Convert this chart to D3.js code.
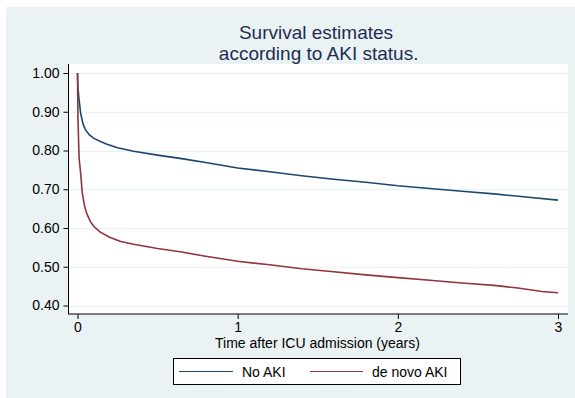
<!DOCTYPE html>
<html>
<head>
<meta charset="utf-8">
<script src="https://cdn.jsdelivr.net/npm/d3@7"></script>
<style>
  html, body { margin: 0; padding: 0; background: #fff; }
  svg { display: block; font-family: "Liberation Sans", Arial, Helvetica, sans-serif; }
</style>
</head>
<body>
<div id="chart"></div>
<script>
// Kaplan-Meier estimates, [years, survival]
var no_aki = [
  [0, 1.0], [0.003, 0.96], [0.01, 0.93], [0.02, 0.895], [0.035, 0.868],
  [0.05, 0.853], [0.075, 0.84], [0.1, 0.832], [0.14, 0.824], [0.18, 0.817],
  [0.25, 0.807], [0.35, 0.798], [0.5, 0.788], [0.65, 0.779], [0.8, 0.769],
  [1.0, 0.755], [1.2, 0.745], [1.4, 0.735], [1.6, 0.726], [1.8, 0.718],
  [2.0, 0.709], [2.2, 0.702], [2.4, 0.695], [2.6, 0.688], [2.8, 0.68],
  [3.0, 0.672]
];
var de_novo_aki = [
  [0, 1.0], [0.003, 0.88], [0.01, 0.78], [0.02, 0.74], [0.03, 0.69],
  [0.045, 0.655], [0.06, 0.635], [0.08, 0.617], [0.1, 0.605], [0.14, 0.59],
  [0.2, 0.576], [0.27, 0.565], [0.35, 0.558], [0.5, 0.547], [0.65, 0.538],
  [0.8, 0.527], [1.0, 0.514], [1.2, 0.505], [1.4, 0.495], [1.6, 0.487],
  [1.8, 0.479], [2.0, 0.472], [2.2, 0.465], [2.4, 0.458], [2.6, 0.452],
  [2.75, 0.445], [2.9, 0.436], [3.0, 0.433]
];
var series_names = ['No AKI', 'de novo AKI'];
var series_colors = ['#1a476f', '#90353b'];
var y_ticks = [0.40, 0.50, 0.60, 0.70, 0.80, 0.90, 1.00];
var x_ticks = [0, 1, 2, 3];
var title_lines = ['Survival estimates', ' according to AKI status.'];
var x_title = 'Time after ICU admission (years)';

var width = 575, height = 398;
var bg_color = '#eaf2f3';

var svg = d3.select('#chart')
  .append('svg')
  .attr('width', width)
  .attr('height', height);

// outer graph region
svg.append('rect')
  .attr('x', 6).attr('y', 7)
  .attr('width', width - 6).attr('height', height - 7)
  .attr('fill', bg_color);

// plot region
var plot = {left: 68, right: 568, top: 64, bottom: 314};
svg.append('rect')
  .attr('x', plot.left).attr('y', plot.top)
  .attr('width', plot.right - plot.left)
  .attr('height', plot.bottom - plot.top)
  .attr('fill', '#fff');

var x = d3.scaleLinear().domain([0, 3]).range([77.5, 558]);
var y = d3.scaleLinear().domain([0.4, 1.0]).range([305.5, 73]);

// grid lines
svg.append('g')
  .selectAll('line')
  .data(y_ticks)
  .join('line')
  .attr('x1', plot.left + 1)
  .attr('x2', plot.right)
  .attr('y1', function(d) { return Math.round(y(d)) + 0.5; })
  .attr('y2', function(d) { return Math.round(y(d)) + 0.5; })
  .attr('stroke', bg_color)
  .attr('stroke-width', 1.5);

// curves
var line = d3.line()
  .x(function(d) { return x(d[0]); })
  .y(function(d) { return y(d[1]); });

[no_aki, de_novo_aki].forEach(function(inst_data, i) {
  svg.append('path')
    .datum(inst_data)
    .attr('d', line)
    .attr('fill', 'none')
    .attr('stroke', series_colors[i])
    .attr('stroke-width', 1.6);
});

// y axis
var y_axis = d3.axisLeft(y)
  .tickValues(y_ticks)
  .tickSize(5)
  .tickPadding(4)
  .tickFormat(d3.format('.2f'));
var y_group = svg.append('g')
  .attr('transform', 'translate(' + (plot.left + 0.5) + ',0)')
  .call(y_axis);
y_group.select('.domain').remove();
y_group.append('line')
  .attr('x1', 0).attr('x2', 0)
  .attr('y1', plot.top).attr('y2', plot.bottom)
  .attr('stroke', '#000');

// x axis
var x_axis = d3.axisBottom(x)
  .tickValues(x_ticks)
  .tickSize(5)
  .tickPadding(3)
  .tickFormat(d3.format('d'));
var x_group = svg.append('g')
  .attr('transform', 'translate(0,' + plot.bottom + ')')
  .call(x_axis);
x_group.select('.domain').remove();
x_group.append('line')
  .attr('x1', plot.left).attr('x2', plot.right)
  .attr('y1', 0).attr('y2', 0)
  .attr('stroke', '#000');

svg.selectAll('.tick text')
  .attr('font-size', 14)
  .attr('font-family', null)
  .attr('fill', '#000');
svg.selectAll('.tick line').attr('stroke', '#000');

// axis title
svg.append('text')
  .attr('x', 317.5)
  .attr('y', 348)
  .attr('text-anchor', 'middle')
  .attr('font-size', 14)
  .text(x_title);

// title
svg.append('g')
  .selectAll('text')
  .data(title_lines)
  .join('text')
  .attr('x', 316)
  .attr('y', function(d, i) { return 38.5 + i * 21.5; })
  .attr('text-anchor', 'middle')
  .attr('font-size', 19)
  .attr('fill', '#1e2d53')
  .attr('xml:space', 'preserve')
  .style('white-space', 'pre')
  .text(function(d) { return d; });

// legend
var legend = svg.append('g');
legend.append('rect')
  .attr('x', 173.5).attr('y', 358.5)
  .attr('width', 287).attr('height', 26)
  .attr('fill', '#fff')
  .attr('stroke', '#000');

var legend_pos = [[179, 233, 242], [310, 363, 372]];
series_names.forEach(function(name, i) {
  legend.append('line')
    .attr('x1', legend_pos[i][0]).attr('x2', legend_pos[i][1])
    .attr('y1', 371.5).attr('y2', 371.5)
    .attr('stroke', series_colors[i])
    .attr('stroke-width', 1.2);
  legend.append('text')
    .attr('x', legend_pos[i][2])
    .attr('y', 376.5)
    .attr('font-size', 14)
    .text(name);
});
</script>
</body>
</html>
